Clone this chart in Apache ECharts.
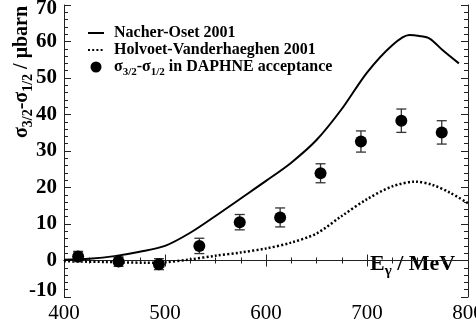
<!DOCTYPE html>
<html><head><meta charset="utf-8">
<script src="https://cdn.jsdelivr.net/npm/echarts@6/dist/echarts.min.js"></script>
<style>html,body{margin:0;padding:0;background:#fff}#c{width:476px;height:323px}</style>
</head><body><div id="c"></div>
<script>
// Data points (sigma_3/2 - sigma_1/2 in DAPHNE acceptance)
const ptX = [414, 454, 494, 534, 574, 614, 654, 694, 734, 774];
const ptY = [1.1, -0.3, -1.0, 4.0, 10.5, 11.8, 23.9, 32.6, 38.3, 35.1];
const ptErr = [1.4, 1.3, 1.5, 2.1, 2.1, 2.6, 2.6, 2.9, 3.2, 3.2];
// Nacher-Oset 2001 curve
const nacherX = [400, 425, 450, 475, 500, 525, 550, 575, 600, 625, 650, 675, 700, 725, 742, 752, 762, 775, 791];
const nacherY = [0.2, 0.5, 1.2, 2.4, 4.0, 7.6, 12.2, 17.0, 21.8, 26.8, 33.0, 41.5, 51.5, 59.0, 61.8, 61.5, 60.8, 57.6, 54.0];
// Holvoet-Vanderhaeghen 2001 curve
const holvX = [400, 440, 480, 500, 525, 550, 575, 600, 625, 650, 675, 700, 725, 748, 765, 782, 800];
const holvY = [-0.2, -0.4, -0.6, -0.5, 0.3, 1.3, 2.2, 3.3, 4.9, 7.4, 12.2, 16.8, 20.3, 21.6, 20.7, 18.6, 15.7];
// Axis ticks
const xMin = 400, xMax = 800, xStep = 100;
const yMin = -10, yMax = 70, yStep = 10;

const FONT = '"Liberation Serif", "Times New Roman", serif';
const chart = echarts.init(document.getElementById('c'), null, {renderer: 'canvas'});

const zip = (a, b) => a.map((v, i) => [v, b[i]]);
const axisCommon = {
  type: 'value',
  axisLine: {show: true, lineStyle: {color: '#222', width: 1}},
  splitLine: {show: false},
  axisTick: {show: true, inside: true, length: 6, lineStyle: {color: '#222'}},
  minorTick: {show: true, length: 3, lineStyle: {color: '#222'}}
};
function xAx(pos, labels) {
  return Object.assign({}, axisCommon, {
    position: pos, min: xMin, max: xMax, interval: xStep,
    minorTick: Object.assign({}, axisCommon.minorTick, {splitNumber: 4}),
    axisLabel: {show: labels, fontFamily: FONT, fontSize: 21, color: '#000', margin: 6,
      alignMinLabel: 'center', alignMaxLabel: 'center', hideOverlap: false}
  });
}
const yLabFont = {fontFamily: FONT, fontSize: 21, fontWeight: 'bold', color: '#000'};
function yAx(pos, labels) {
  return Object.assign({}, axisCommon, {
    position: pos, min: yMin, max: yMax, interval: yStep,
    axisTick: Object.assign({}, axisCommon.axisTick, {length: 7}),
    minorTick: Object.assign({}, axisCommon.minorTick, {splitNumber: 5, length: 4}),
    axisLabel: Object.assign({show: labels, margin: 7, verticalAlign: 'middle', hideOverlap: false,
      formatter: function (v) {
        if (v === yMax) return '{t|' + v + '}';
        if (v === yMin) return '{b|' + v + '}';
        return String(v);
      },
      rich: {
        t: Object.assign({padding: [7, 0, 0, 0]}, yLabFont),
        b: Object.assign({padding: [0, 0, 13, 0]}, yLabFont)
      }}, yLabFont)
  });
}
const subRich = (base, sub) => ({
  m: {fontFamily: FONT, fontSize: base, fontWeight: 'bold', color: '#000', lineHeight: Math.round(base * 1.3)},
  s: {fontFamily: FONT, fontSize: sub, fontWeight: 'bold', color: '#000', verticalAlign: 'bottom', lineHeight: Math.round(base * 1.3)}
});

const option = {
  animation: false,
  backgroundColor: '#fff',
  grid: {left: 64, right: 8, top: 5, bottom: 26, containLabel: false, outerBoundsMode: 'none'},
  xAxis: [xAx('bottom', true), xAx('top', false)],
  yAxis: [yAx('left', true), yAx('right', false)],
  legend: {
    orient: 'vertical', left: 82, top: 20,
    itemWidth: 16, itemHeight: 11, itemGap: 1,
    data: [
      {name: 'Nacher-Oset 2001', itemStyle: {opacity: 0}},
      {name: 'Holvoet-Vanderhaeghen 2001', itemStyle: {opacity: 0}},
      {name: 'DAPHNE'}
    ],
    textStyle: {fontFamily: FONT, fontSize: 16, fontWeight: 'bold', color: '#000', padding: [0, 0, 0, 5],
      rich: subRich(16, 11)},
    formatter: function (name) {
      if (name === 'DAPHNE') return '{m|σ}{s|3/2}{m|-σ}{s|1/2}{m| in DAPHNE acceptance}';
      return name;
    }
  },
  graphic: [
    {type: 'text', x: 22, y: 72, rotation: Math.PI / 2,
      style: {text: '{m|σ}{s|3/2}{m|-σ}{s|1/2}{m| / μbarn}', align: 'center', verticalAlign: 'middle',
        rich: subRich(20, 14)}},
    {type: 'text', x: 370, y: 264,
      style: {text: '{m|E}{s|γ}{m| / MeV}', align: 'left', verticalAlign: 'middle',
        rich: subRich(22, 15)}}
  ],
  series: [
    {name: 'Nacher-Oset 2001', type: 'line', data: zip(nacherX, nacherY), smooth: 0.3,
      symbol: 'none', lineStyle: {color: '#000', width: 2}, itemStyle: {color: '#000'}, z: 3},
    {name: 'Holvoet-Vanderhaeghen 2001', type: 'line', data: zip(holvX, holvY), smooth: 0.3,
      symbol: 'none', lineStyle: {color: '#000', width: 2.5, type: [2, 2.2]}, itemStyle: {color: '#000'}, z: 3},
    {name: 'errors', type: 'custom', z: 4,
      data: ptX.map((x, i) => [x, ptY[i], ptErr[i]]),
      renderItem: function (params, api) {
        const x = api.value(0), y = api.value(1), e = api.value(2);
        const t = api.coord([x, y + e]), b = api.coord([x, y - e]);
        const hw = 5, st = {stroke: '#333', lineWidth: 1.3};
        return {type: 'group', children: [
          {type: 'line', shape: {x1: t[0], y1: t[1], x2: b[0], y2: b[1]}, style: st},
          {type: 'line', shape: {x1: t[0] - hw, y1: t[1], x2: t[0] + hw, y2: t[1]}, style: st},
          {type: 'line', shape: {x1: b[0] - hw, y1: b[1], x2: b[0] + hw, y2: b[1]}, style: st}
        ]};
      }},
    {name: 'DAPHNE', type: 'scatter', data: zip(ptX, ptY), symbol: 'circle', symbolSize: 12,
      itemStyle: {color: '#000', opacity: 1}, z: 5}
  ]
};
chart.setOption(option);
</script></body></html>
